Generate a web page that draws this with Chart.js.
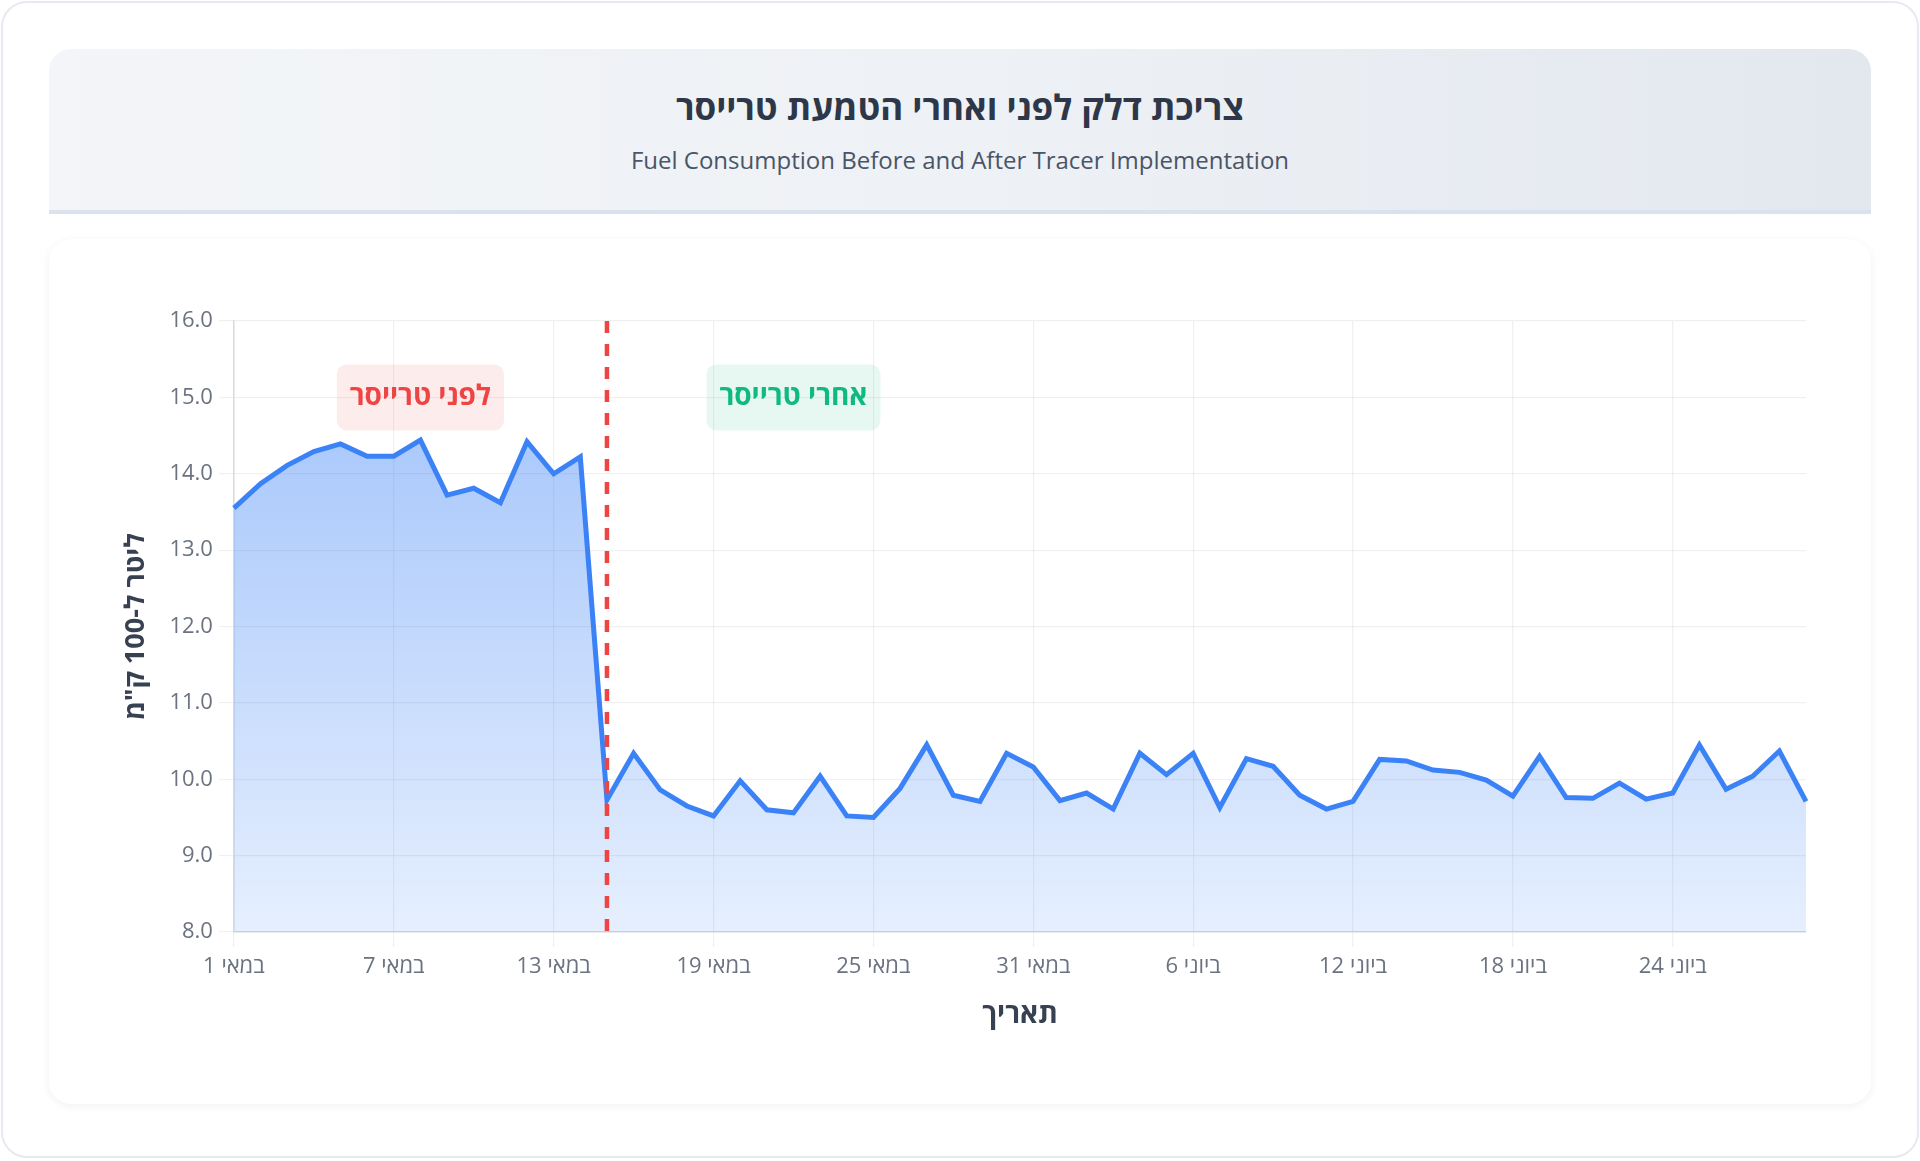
<!DOCTYPE html>
<html lang="he">
<head>
<meta charset="utf-8">
<script src="https://cdn.jsdelivr.net/npm/chart.js@4.4.1/dist/chart.umd.min.js"></script>
<style>
  html, body { margin:0; padding:0; background:#ffffff; width:1920px; height:1161px; overflow:hidden; }
  body { font-family: "Open Sans", "Noto Sans", "DejaVu Sans", sans-serif; position:relative; }
  .frame { position:absolute; left:1px; top:1px; width:1918px; height:1157px; box-sizing:border-box;
           border:2px solid #e6eaf0; border-radius:26px; background:#ffffff; }
  .header { position:absolute; left:49px; top:49px; width:1822px; height:165px; box-sizing:border-box;
            background:linear-gradient(90deg, #f3f5f8 0%, #eef1f5 50%, #e3e8ef 100%);
            border-radius:22px 22px 0 0; border-bottom:4px solid #d9e2ee; text-align:center; }
  .header h1 { margin:0; position:absolute; left:0; right:0; top:57.5px; transform:translateY(-50%);
               font-size:35px; font-weight:700; color:#2d3748; direction:rtl; line-height:1.2; }
  .header p { margin:0; position:absolute; left:0; right:0; top:111px; transform:translateY(-50%);
              font-size:24px; color:#4a5568; line-height:1.2; }
  .card { position:absolute; left:49px; top:239px; width:1822px; height:865px; background:#ffffff;
          border-radius:22px; box-shadow:0 2px 10px rgba(15,23,42,0.06); }
  #wrap { position:absolute; left:0; top:0; width:1920px; height:1161px; }
</style>
</head>
<body>
<div class="frame"></div>
<div class="header">
  <h1>צריכת דלק לפני ואחרי הטמעת טרייסר</h1>
  <p>Fuel Consumption Before and After Tracer Implementation</p>
</div>
<div class="card"></div>
<div id="wrap"><canvas id="c" width="1920" height="1161"></canvas></div>
<script>
// Categories (dates, 1 May – 29 June)
const dateLabels = [
  "1 במאי","2 במאי","3 במאי","4 במאי","5 במאי","6 במאי","7 במאי","8 במאי","9 במאי","10 במאי",
  "11 במאי","12 במאי","13 במאי","14 במאי","15 במאי","16 במאי","17 במאי","18 במאי","19 במאי","20 במאי",
  "21 במאי","22 במאי","23 במאי","24 במאי","25 במאי","26 במאי","27 במאי","28 במאי","29 במאי","30 במאי",
  "31 במאי","1 ביוני","2 ביוני","3 ביוני","4 ביוני","5 ביוני","6 ביוני","7 ביוני","8 ביוני","9 ביוני",
  "10 ביוני","11 ביוני","12 ביוני","13 ביוני","14 ביוני","15 ביוני","16 ביוני","17 ביוני","18 ביוני","19 ביוני",
  "20 ביוני","21 ביוני","22 ביוני","23 ביוני","24 ביוני","25 ביוני","26 ביוני","27 ביוני","28 ביוני","29 ביוני"
];
// Fuel consumption (L/100km) before tracer: 1–14 May
const beforeTracer = [13.55, 13.87, 14.11, 14.29, 14.39, 14.23, 14.23, 14.44, 13.72, 13.81, 13.62, 14.42, 14.00, 14.22];
// After tracer: 15 May – 29 June
const afterTracer = [9.73, 10.34, 9.86, 9.65, 9.52, 9.98, 9.60, 9.56, 10.04, 9.52,
  9.50, 9.88, 10.45, 9.79, 9.71, 10.34, 10.16, 9.72, 9.82, 9.61,
  10.34, 10.06, 10.34, 9.63, 10.27, 10.17, 9.79, 9.61, 9.71, 10.26,
  10.24, 10.12, 10.09, 9.99, 9.78, 10.30, 9.76, 9.75, 9.95, 9.74,
  9.82, 10.45, 9.87, 10.04, 10.37, 9.71];
const fuelValues = beforeTracer.concat(afterTracer);

// Axis settings
const yMin = 8, yMax = 16, yStep = 1;
const xLabelEvery = 6;
const tracerIndex = 14;                       // 15 May
const beforeLabel = { text: "לפני טרייסר", index: 7, value: 15.0 };
const afterLabel  = { text: "אחרי טרייסר", index: 21, value: 15.0 };

const FONT = '"Open Sans", "Noto Sans", "DejaVu Sans", sans-serif';

const markerPlugin = {
  id: 'tracerMarkers',
  afterDatasetsDraw(chart) {
    const {ctx, chartArea, scales} = chart;
    const x = scales.x.getPixelForValue(tracerIndex);
    ctx.save();
    ctx.strokeStyle = '#ef4444';
    ctx.lineWidth = 4.5;
    ctx.setLineDash([12, 11]);
    ctx.beginPath();
    ctx.moveTo(x, chartArea.top);
    ctx.lineTo(x, chartArea.bottom);
    ctx.stroke();
    ctx.restore();
  },
  afterDraw(chart) {
    const {ctx, scales} = chart;
    const drawBox = (lbl, fg, bg) => {
      const cx = scales.x.getPixelForValue(lbl.index);
      const cy = scales.y.getPixelForValue(lbl.value);
      ctx.save();
      ctx.font = '700 28px ' + FONT;
      ctx.direction = 'rtl';
      const w = ctx.measureText(lbl.text).width + 26;
      const h = 66;
      ctx.fillStyle = bg;
      ctx.beginPath();
      ctx.roundRect(cx - w / 2, cy - h / 2, w, h, 10);
      ctx.fill();
      ctx.fillStyle = fg;
      ctx.textAlign = 'center';
      ctx.textBaseline = 'middle';
      ctx.fillText(lbl.text, cx, cy);
      ctx.restore();
    };
    drawBox(beforeLabel, '#ef4444', 'rgba(239,68,68,0.10)');
    drawBox(afterLabel, '#10b981', 'rgba(16,185,129,0.10)');
  }
};

const ctx = document.getElementById('c').getContext('2d');
new Chart(ctx, {
  type: 'line',
  data: {
    labels: dateLabels,
    datasets: [{
      data: fuelValues,
      borderColor: '#3b82f6',
      borderWidth: 5,
      pointRadius: 0,
      pointHoverRadius: 0,
      tension: 0,
      fill: 'start',
      backgroundColor: (c) => {
        const area = c.chart.chartArea;
        if (!area) return 'rgba(59,130,246,0.3)';
        const g = c.chart.ctx.createLinearGradient(0, area.top, 0, area.bottom);
        g.addColorStop(0, 'rgba(59,130,246,0.50)');
        g.addColorStop(1, 'rgba(59,130,246,0.13)');
        return g;
      }
    }]
  },
  options: {
    responsive: false,
    animation: false,
    devicePixelRatio: 1,
    layout: { padding: { left: 116, right: 114, top: 321, bottom: 125 } },
    plugins: { legend: { display: false }, tooltip: { enabled: false } },
    scales: {
      x: {
        type: 'category',
        border: { color: '#d5d9e0', width: 1.5 },
        grid: { color: 'rgba(0,0,0,0.06)', lineWidth: 1.2, tickLength: 15, drawOnChartArea: true },
        ticks: {
          autoSkip: false, maxRotation: 0, minRotation: 0, padding: 7,
          color: '#6b7280', font: { family: FONT, size: 22 },
          callback: function (v, i) { return i % xLabelEvery === 0 ? this.getLabelForValue(v) : null; }
        },
        title: { display: true, text: 'תאריך', color: '#374151',
                 font: { family: FONT, size: 28, weight: '700' }, padding: { top: 11, bottom: 4 } }
      },
      y: {
        min: yMin, max: yMax,
        border: { color: '#d5d9e0', width: 1.5 },
        grid: { color: 'rgba(0,0,0,0.06)', lineWidth: 1.2, tickLength: 15 },
        ticks: { stepSize: yStep, padding: 6, color: '#6b7280', font: { family: FONT, size: 22 },
                 callback: (v) => Number(v).toFixed(1) },
        title: { display: true, text: 'ליטר ל-100 ק"מ', color: '#374151',
                 font: { family: FONT, size: 27, weight: '700' }, padding: { top: 4, bottom: 11 } }
      }
    }
  },
  plugins: [markerPlugin]
});
</script>
</body>
</html>
